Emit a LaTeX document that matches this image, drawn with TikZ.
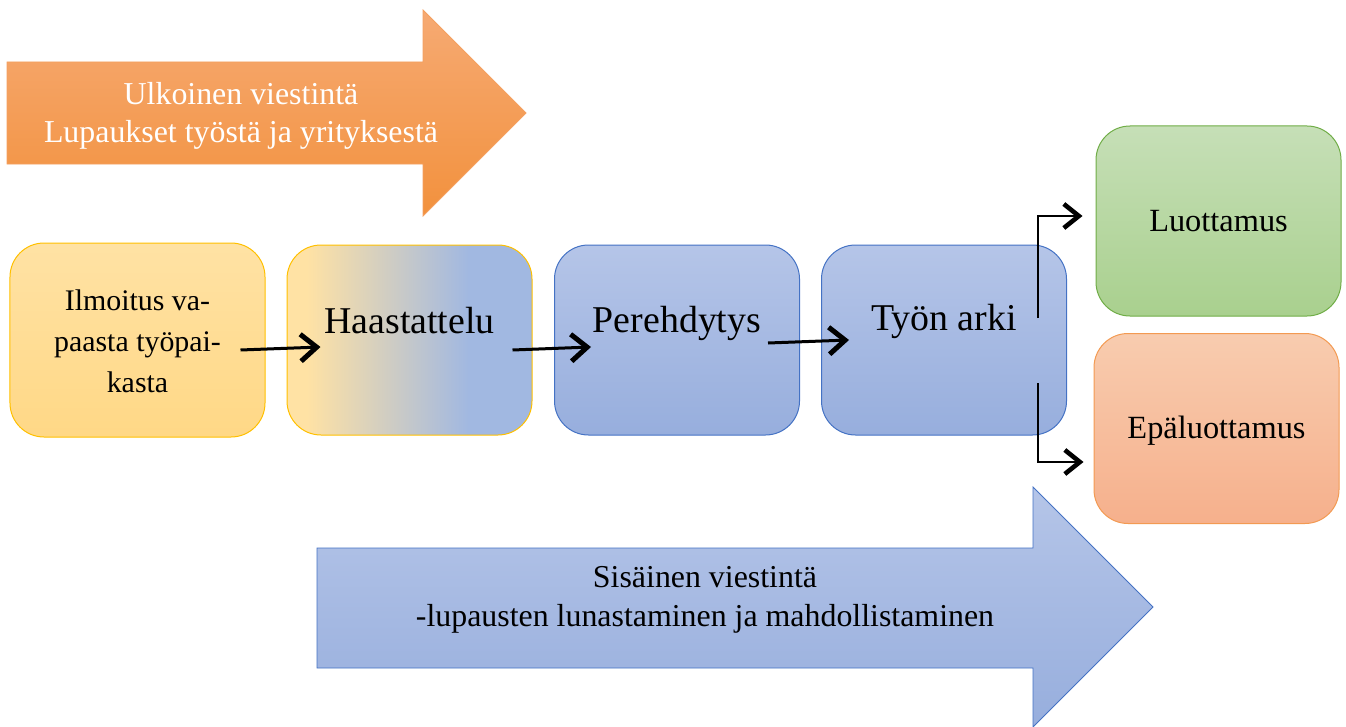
\documentclass[tikz,border=0pt]{standalone}
\usepackage{fontspec}
\setmainfont{Liberation Serif}
\usetikzlibrary{arrows.meta,calc}

\definecolor{ylwTop}{HTML}{FFE2A4}
\definecolor{ylwBot}{HTML}{FFD886}
\definecolor{ylwLine}{HTML}{FFC000}
\definecolor{bluTop}{HTML}{B5C5E8}
\definecolor{bluBot}{HTML}{97AEDD}
\definecolor{bluMid}{HTML}{A1B8E1}
\definecolor{bluLine}{HTML}{4472C4}
\definecolor{grnTop}{HTML}{C6DFB7}
\definecolor{grnBot}{HTML}{A9D08E}
\definecolor{grnLine}{HTML}{70AD47}
\definecolor{orgTop}{HTML}{F8CCAF}
\definecolor{orgBot}{HTML}{F6B08C}
\definecolor{orgLine}{HTML}{F39A52}
\definecolor{arrTop}{HTML}{F6AA73}
\definecolor{arrBot}{HTML}{F2913D}
\definecolor{arrLine}{HTML}{F4A060}

% yellow fading into blue from left to right
\pgfdeclarehorizontalshading{yellowblue}{100bp}{%
  color(0bp)=(ylwTop); color(29bp)=(ylwTop); color(62bp)=(bluMid); color(100bp)=(bluMid)}

\tikzset{
  stagebox/.style={rounded corners=34bp, line width=1bp, minimum width=245bp, minimum height=190bp, inner sep=0pt},
  yellowbox/.style={stagebox, draw=ylwLine, top color=ylwTop, bottom color=ylwBot},
  bluebox/.style={stagebox, draw=bluLine, top color=bluTop, bottom color=bluBot},
  greenbox/.style={stagebox, draw=grnLine, top color=grnTop, bottom color=grnBot},
  orangebox/.style={stagebox, draw=orgLine, top color=orgTop, bottom color=orgBot},
  bigtxt/.style={font=\fontsize{38}{40}\selectfont},
  midtxt/.style={font=\fontsize{32.5}{38}\selectfont},
  flow/.style={line width=3bp, -{Straight Barb[length=16bp,width=27bp,line width'=5bp]}},
  branch/.style={line width=2.2bp, -{Straight Barb[length=15bp,width=24bp,line width'=4.6bp]}},
}

\begin{document}
\begin{tikzpicture}[x=1bp,y=-1bp]
\useasboundingbox (0,0) rectangle (1346,726);

% external communication arrow
\draw[arrLine, line width=0.8bp, top color=arrTop, bottom color=arrBot]
  (7,62) -- (423,62) -- (423,10) -- (526,113) -- (423,216) -- (423,164) -- (7,164) -- cycle;
\node[align=center, text=white, font=\fontsize{32}{38}\selectfont] (ext) at (241,116)
  {Ulkoinen viestintä\\Lupaukset työstä ja yrityksestä};

% internal communication arrow
\draw[bluLine, line width=0.8bp, top color=bluTop, bottom color=bluBot]
  (317,548) -- (1033,548) -- (1033,487) -- (1153,607) -- (1033,727) -- (1033,668) -- (317,668) -- cycle;
\node[align=center, font=\fontsize{32}{39}\selectfont] (int) at (705,600)
  {Sisäinen viestintä\\-lupausten lunastaminen ja mahdollistaminen};

% process stages
\node[yellowbox, minimum width=255bp, minimum height=194bp] (ilm) at (137.5,340) {};
\node[stagebox, draw=ylwLine, shading=yellowblue] (hst) at (409.5,340) {};
\node[bluebox] (per) at (677,340) {};
\node[bluebox] (ark) at (944,340) {};
\node[greenbox] (lut) at (1218.5,221) {};
\node[orangebox] (epa) at (1216.5,428.5) {};

\node[align=center, font=\fontsize{30}{41}\selectfont] (ilmT) at ([yshift=-1bp]ilm.center)
  {Ilmoitus va-\\paasta työpai-\\kasta};
\node[bigtxt] (hstT) at ([yshift=19bp]hst.center) {Haastattelu};
\node[bigtxt] (perT) at ([yshift=17bp]per.center) {Perehdytys};
\node[bigtxt] (arkT) at ([yshift=19bp]ark.center) {Työn arki};
\node[midtxt] (lutT) at (lut.center) {Luottamus};
\node[midtxt] (epaT) at ([yshift=-2bp]epa.center) {Epäluottamus};

% connectors between stages
\draw[flow] ($(ilm.east)+(-25,10)$) -- ($(hst.west)+(34,7)$);
\draw[flow] ($(hst.east)+(-20,10)$) -- ($(per.west)+(37,7)$);
\draw[flow] ($(per.east)+(-32,3)$) -- ($(ark.west)+(28,0)$);
\draw[branch] ($(ark.east)+(-29,-22)$) |- ($(lut.west)+(-13,-5)$);
\draw[branch] ($(ark.east)+(-29,43)$) |- ($(epa.west)+(-10,33.5)$);
\end{tikzpicture}
\end{document}
